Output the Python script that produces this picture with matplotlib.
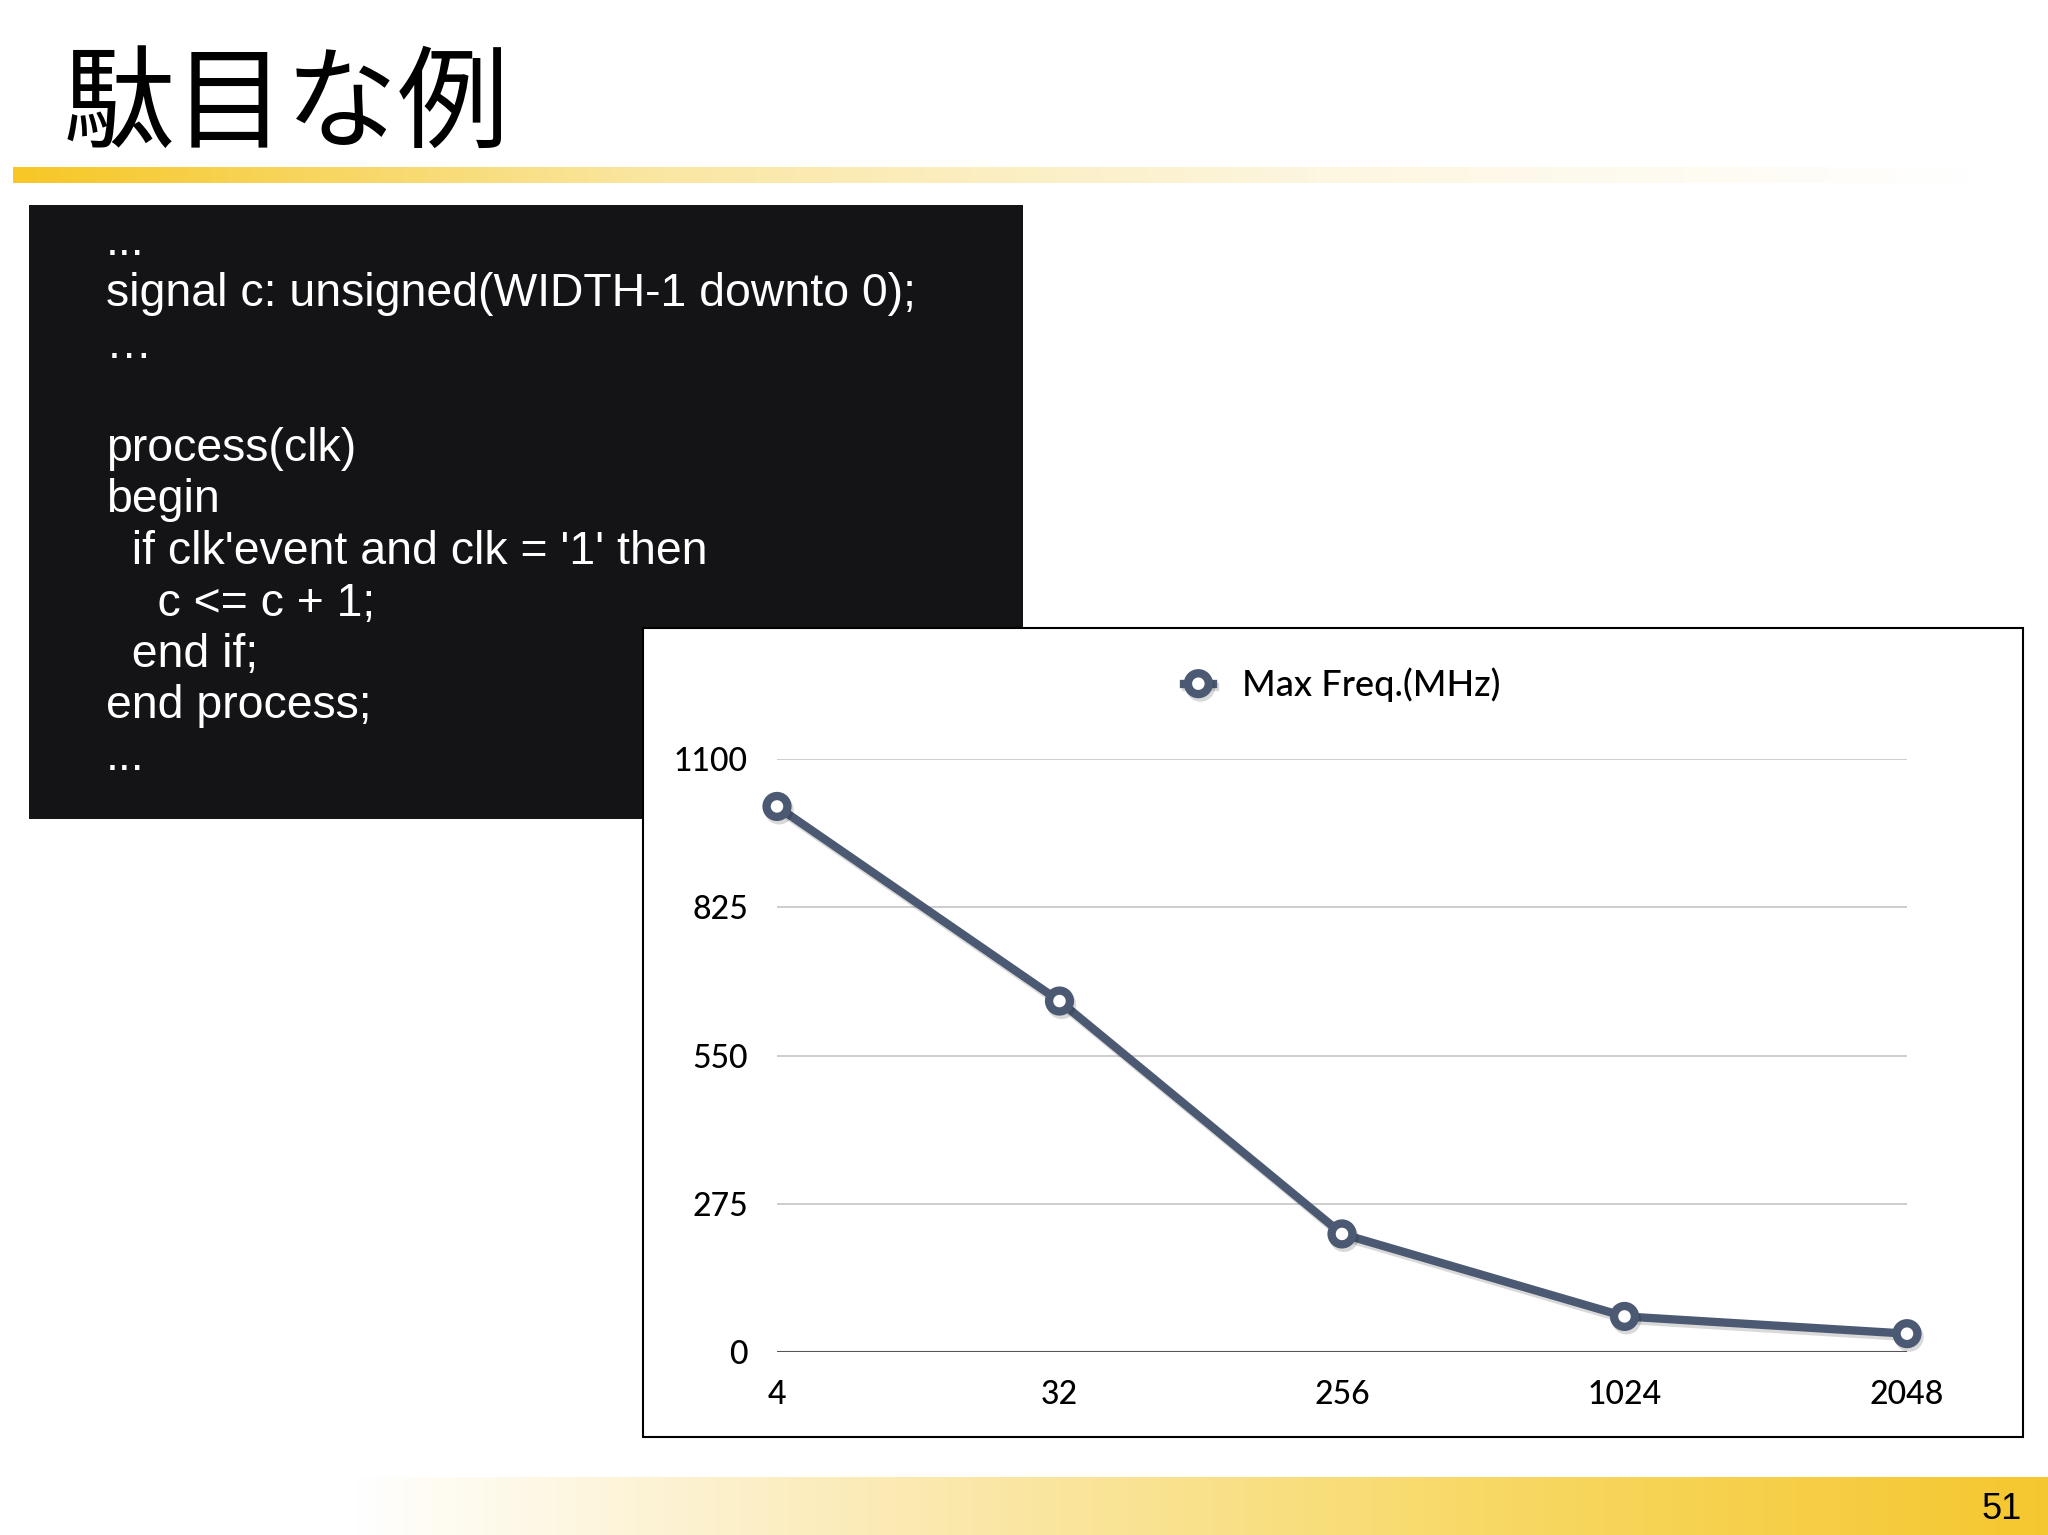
import numpy as np
import matplotlib.pyplot as plt
from matplotlib.patches import Rectangle
from matplotlib.colors import LinearSegmentedColormap
import matplotlib.patheffects as pe

# Chart data
widths = ['4', '32', '256', '1024', '2048']
max_freq = [1012, 651, 219, 66, 34]  # MHz
y_ticks = [0, 275, 550, 825, 1100]

title = '駄目な例'
page_no = '51'
code_lines = [
    '...',
    'signal c: unsigned(WIDTH-1 downto 0);',
    '…',
    '',
    'process(clk)',
    'begin',
    "  if clk'event and clk = '1' then",
    '    c <= c + 1;',
    '  end if;',
    'end process;',
    '...',
]

W, H = 2048, 1535
gold = '#f6c726'
line_col = '#4b5a72'

fig = plt.figure(figsize=(W / 100, H / 100), dpi=100)
fig.patch.set_facecolor('white')

# background layer in pixel coordinates
bg = fig.add_axes([0, 0, 1, 1], zorder=0)
bg.set_axis_off()

# title + gold rule under it
bg.text(63, 139, title, fontsize=80.5, family=['Noto Sans CJK JP', 'DejaVu Sans'],
        color='black', va='baseline', ha='left')
top_cmap = LinearSegmentedColormap.from_list('top', [gold, '#fae7a4', '#fdf6e0', 'white'])
bg.imshow(np.linspace(0, 1, 256)[None, :], cmap=top_cmap, aspect='auto',
          extent=(13, 1975, 183, 167), zorder=1)

# bottom gold band
bot_cmap = LinearSegmentedColormap.from_list('bot', ['white', '#fbe9b0', '#f8d966', '#f5c72f'])
bg.imshow(np.linspace(0, 1, 256)[None, :], cmap=bot_cmap, aspect='auto',
          extent=(350, 2048, 1535, 1477), zorder=1)
bg.text(2022, 1519, page_no, fontsize=26, family='Liberation Sans', ha='right', va='baseline')

# code box
bg.add_patch(Rectangle((29, 205), 994, 614, facecolor='#141316', edgecolor='none', zorder=2))
for i, ln in enumerate(code_lines):
    bg.text(106, 255 + 51.5 * i, ln, fontsize=33.4, family='Liberation Sans',
            color='white', va='baseline', ha='left', zorder=3)

# chart frame
bg.add_patch(Rectangle((643, 628), 1380, 809, facecolor='white', edgecolor='black',
                       lw=1.5, zorder=4))
bg.set_xlim(0, W)
bg.set_ylim(H, 0)

# the line chart
ax = fig.add_axes([777 / W, 1 - 1352 / H, 1130 / W, 593 / H], zorder=5)
ax.patch.set_alpha(0)
x = np.arange(len(widths))
ax.plot(x, max_freq, color=line_col, lw=6, marker='o', markersize=15,
        markerfacecolor='white', markeredgecolor=line_col, markeredgewidth=6,
        clip_on=False, zorder=4, label='Max Freq.(MHz)',
        path_effects=[pe.SimpleLineShadow(offset=(1.5, -2.5), alpha=0.15), pe.Normal()])

ax.set_xlim(0, len(widths) - 1)
ax.set_ylim(0, 1100)
ax.set_xticks(x)
ax.set_xticklabels(widths)
ax.set_yticks(y_ticks)
ax.set_yticklabels([str(v) for v in y_ticks])
for v in y_ticks[1:]:
    ax.axhline(v, color='#c9c9c9', lw=1.3, zorder=1)
ax.axhline(0, color='#555555', lw=1.5, zorder=1)
for s in ax.spines.values():
    s.set_visible(False)
ax.tick_params(length=0, labelsize=23)
ax.tick_params(axis='y', pad=21)
ax.tick_params(axis='x', pad=20)
for lab in ax.get_xticklabels() + ax.get_yticklabels():
    lab.set_family('Lato')
    lab.set_fontweight('medium')

leg = ax.legend(loc='center', bbox_to_anchor=(1342 / W, 1 - 685 / H),
                bbox_transform=fig.transFigure, frameon=False, handlelength=0.8,
                handletextpad=0.8, prop={'family': 'Lato', 'size': 26, 'weight': 'medium'})

fig.savefig('out.png', dpi=100, facecolor='white')
